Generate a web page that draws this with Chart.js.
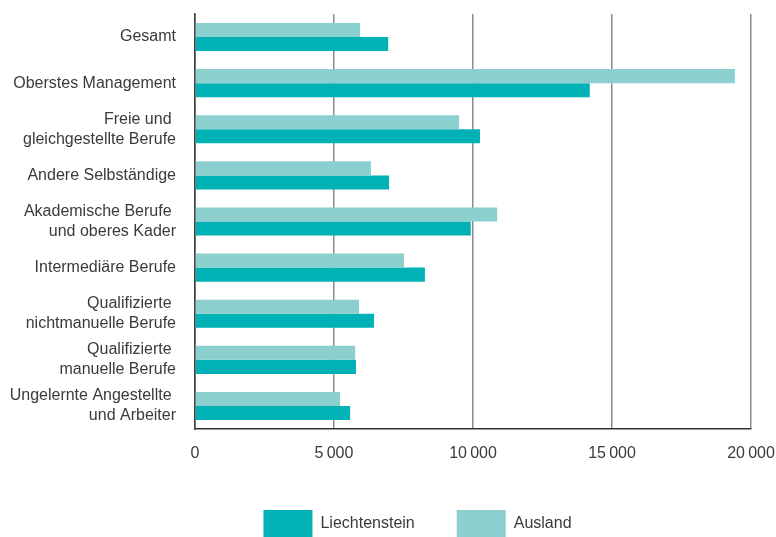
<!DOCTYPE html>
<html>
<head>
<meta charset="utf-8">
<script src="https://cdn.jsdelivr.net/npm/chart.js@4"></script>
<style>
  html, body { margin: 0; padding: 0; background: #fff; }
</style>
</head>
<body>
<canvas id="chart" width="776" height="537"></canvas>
<script>
const categories = [
    "Gesamt",
    "Oberstes Management",
    ["Freie und ", "gleichgestellte Berufe"],
    "Andere Selbständige",
    ["Akademische Berufe ", "und oberes Kader"],
    "Intermediäre Berufe",
    ["Qualifizierte ", "nichtmanuelle Berufe"],
    ["Qualifizierte ", "manuelle Berufe"],
    ["Ungelernte Angestellte ", "und Arbeiter"]
];
const liechtenstein = [6950, 14200, 10250, 6980, 9920, 8270, 6440, 5790, 5580];
const ausland = [5940, 19420, 9500, 6330, 10870, 7520, 5900, 5760, 5220];
const xMin = 0;
const xMax = 20000;
const xStep = 5000;

const textColor = "#3a3a3a";
const fontFamily = "'Liberation Sans', Arial, sans-serif";

// thin space as thousands separator, like "10 000"
let formatTick = (v) => {
    if (v === 0) return "0";
    return String(v / 1000) + "\u2009000";
}

// legend sits a bit right of the canvas centre in the original
const legendShift = {
    id: "legendShift",
    afterLayout(chart) {
        chart.legend.left += 38;
        chart.legend.right += 38;
    }
};

const ctx = document.getElementById("chart");
const myChart = new Chart(ctx, {
    type: "bar",
    data: {
        labels: categories,
        datasets: [
            {
                label: "Ausland",
                data: ausland,
                backgroundColor: "#8bcfcf",
                categoryPercentage: 0.61,
                barPercentage: 1
            },
            {
                label: "Liechtenstein",
                data: liechtenstein,
                backgroundColor: "#00b2b5",
                categoryPercentage: 0.61,
                barPercentage: 1
            }
        ]
    },
    options: {
        indexAxis: "y",
        responsive: false,
        animation: false,
        layout: {
            padding: {left: 8, right: 25, top: 14, bottom: -10}
        },
        scales: {
            x: {
                min: xMin,
                max: xMax,
                ticks: {
                    stepSize: xStep,
                    padding: 15,
                    color: textColor,
                    font: {family: fontFamily, size: 16},
                    callback: formatTick
                },
                grid: {
                    drawTicks: false,
                    color: (c) => c.index === 0 ? "#444444" : "#8c8c8c",
                    lineWidth: 1.5
                },
                border: {color: "#333333", width: 1.5},
                afterFit: (scale) => {
                    scale.height = 39;
                    scale.paddingLeft = 0;
                    scale.paddingRight = 0;
                }
            },
            y: {
                ticks: {
                    padding: 19,
                    color: textColor,
                    font: {family: fontFamily, size: 16, lineHeight: 1.25}
                },
                grid: {display: false, drawTicks: false},
                border: {color: "#444444", width: 1.5},
                afterFit: (scale) => {
                    scale.width = 187;
                    scale.paddingTop = 0;
                    scale.paddingBottom = 0;
                }
            }
        },
        plugins: {
            tooltip: {enabled: false},
            legend: {
                position: "bottom",
                labels: {
                    boxWidth: 49,
                    boxHeight: 27,
                    padding: 42,
                    color: textColor,
                    font: {family: fontFamily, size: 16},
                    sort: (a, b) => b.datasetIndex - a.datasetIndex
                }
            }
        }
    },
    plugins: [legendShift]
});
</script>
</body>
</html>
